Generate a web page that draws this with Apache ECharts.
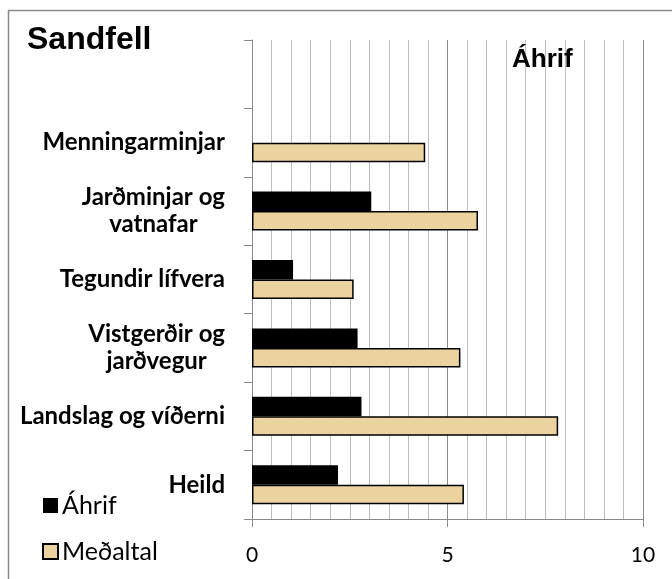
<!DOCTYPE html>
<html>
<head>
<meta charset="utf-8">
<script src="https://cdn.jsdelivr.net/npm/echarts@6/dist/echarts.min.js"></script>
<style>
  html, body { margin: 0; padding: 0; background: #fff; }
  #main { width: 672px; height: 579px; }
</style>
</head>
<body>
<div id="main"></div>
<script>
// flokkar, neðst og upp (efsti flokkurinn er tómur)
var categories = ['Heild', 'Landslag og víðerni', 'Vistgerðir og\njarðvegur', 'Tegundir lífvera', 'Jarðminjar og\nvatnafar', 'Menningarminjar', ''];
var ahrif = [2.2, 2.8, 2.7, 1.05, 3.05, null, null];
var medaltal = [5.42, 7.83, 5.33, 2.6, 5.78, 4.43, null];
var xTicks = [0, 5, 10];

var chart = echarts.init(document.getElementById('main'), null, { renderer: 'canvas' });

var option = {
  backgroundColor: '#fff',
  animation: false,
  title: [
    {
      text: 'Sandfell',
      left: 22, top: 19,
      textStyle: { fontFamily: 'Liberation Sans', fontWeight: 'bold', fontSize: 32, color: '#000' }
    },
    {
      text: 'Áhrif',
      left: 507, top: 42,
      textStyle: { fontFamily: 'Liberation Sans', fontWeight: 'bold', fontSize: 26, color: '#000' }
    }
  ],
  legend: {
    orient: 'vertical',
    left: 42, top: 493,
    padding: 0,
    itemWidth: 15, itemHeight: 15,
    itemGap: 21,
    icon: 'rect',
    data: ['Áhrif', 'Meðaltal'],
    textStyle: { fontFamily: 'Lato', fontSize: 25, color: '#000', padding: [0, 0, 0, -1] }
  },
  grid: { left: 252, right: 29, top: 40, bottom: 60, containLabel: false },
  xAxis: {
    type: 'value',
    min: 0, max: 10, interval: 5,
    axisLine: { show: true, lineStyle: { color: '#8a8a8a', width: 1 } },
    axisTick: { show: true, length: 8, lineStyle: { color: '#8a8a8a' } },
    axisLabel: {
      margin: 26,
      fontFamily: 'Lato', fontSize: 21, color: '#000',
      formatter: function (v) { return xTicks.indexOf(v) >= 0 ? String(v) : ''; }
    },
    splitLine: { show: true, lineStyle: { color: '#8c8c8c', width: 1 } },
    minorTick: { show: false, splitNumber: 10 },
    minorSplitLine: { show: true, lineStyle: { color: '#bdbdbd', width: 1 } }
  },
  yAxis: {
    type: 'category',
    data: categories,
    axisLine: { show: true, lineStyle: { color: '#8a8a8a', width: 1 } },
    axisTick: { show: true, length: 8, alignWithLabel: false, lineStyle: { color: '#8a8a8a' } },
    axisLabel: {
      margin: 27,
      fontFamily: 'Lato', fontWeight: 'bold', fontSize: 24, color: '#000',
      lineHeight: 27, align: 'right',
      // línur í tveggja lína heitum eru miðjaðar hvor undir annarri
      formatter: function (v) {
        if (!v) return '';
        return v.split('\n').map(function (l) { return '{c|' + l + '}'; }).join('\n');
      },
      rich: {
        c: { align: 'center', fontFamily: 'Lato', fontWeight: 'bold', fontSize: 24, lineHeight: 27, color: '#000' }
      }
    },
    splitLine: { show: false }
  },
  series: [
    {
      name: 'Áhrif',
      type: 'bar',
      data: ahrif,
      barGap: '0%',
      barCategoryGap: '43%',
      itemStyle: { color: '#000' }
    },
    {
      name: 'Meðaltal',
      type: 'bar',
      data: medaltal,
      itemStyle: { color: '#ebd3a0', borderColor: '#000', borderWidth: 1.5 }
    }
  ],
  graphic: [
    {
      type: 'rect',
      silent: true,
      shape: { x: 8.5, y: 10.5, width: 700, height: 620 },
      style: { fill: null, stroke: '#8a8a8a', lineWidth: 1.5 },
      z: -1
    }
  ]
};

chart.setOption(option);
</script>
</body>
</html>
